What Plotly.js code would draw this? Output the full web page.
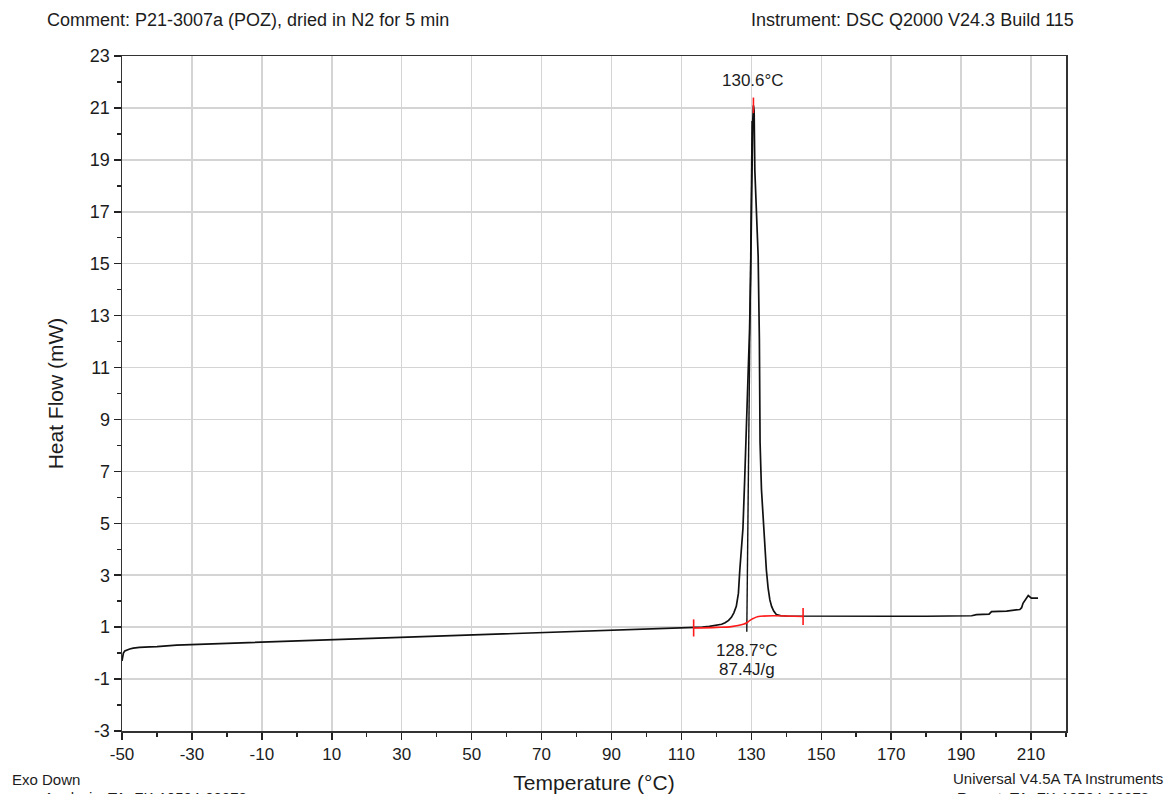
<!DOCTYPE html>
<html>
<head>
<meta charset="utf-8">
<script src="https://cdn.plot.ly/plotly-3.0.1.min.js"></script>
<style>
  html, body { margin: 0; padding: 0; background: #ffffff; }
  #chart { width: 1169px; height: 794px; }
</style>
</head>
<body>
<div id="chart"></div>
<script>
// DSC heating scan: temperature (°C) vs heat flow (mW)
const temperature = [
  -50, -49.8, -49.6, -49.2, -48.7, -47.8, -46.8, -45, -42, -40, -34.4, -30, -20, -13.4,
  0, 10, 20, 30, 40, 50, 60, 70, 80, 90, 100, 110, 113, 116, 118, 120, 121.5, 122.5,
  123.5, 124.3, 125, 125.7, 126.3, 126.7, 127.2, 127.6, 128.1, 128.6, 129.1, 129.5,
  129.8, 130.1, 130.4, 130.6, 130.8, 131.0, 131.5, 131.95, 132.3, 132.5, 132.9, 133.4,
  133.8, 134.3, 134.8, 135.3, 135.8, 136.4, 137.2, 138.5, 140, 150, 160, 170, 180, 190,
  193, 194.4, 198, 198.7, 203, 206.8, 207.3, 207.7, 208.5, 209.2, 210.1, 211, 212
];
const heatFlow = [
  -0.3, -0.1, 0.0, 0.08, 0.12, 0.16, 0.19, 0.22, 0.24, 0.25, 0.31, 0.33, 0.38, 0.40,
  0.46, 0.51, 0.55, 0.60, 0.65, 0.69, 0.73, 0.78, 0.83, 0.88, 0.92, 0.96, 0.98, 1.0,
  1.03, 1.07, 1.11, 1.17, 1.26, 1.38, 1.55, 1.8, 2.3, 3.2, 4.0, 4.8, 6.7, 8.5, 10.4,
  12.5, 14.5, 18.6, 20.5, 21.1, 20.9, 18.6, 17.0, 15.3, 12.1, 8.1, 6.3, 5.0, 4.0, 3.2,
  2.5, 2.05, 1.8, 1.62, 1.48, 1.44, 1.43, 1.42, 1.42, 1.42, 1.42, 1.43, 1.44, 1.48,
  1.5, 1.6, 1.62, 1.68, 1.75, 1.92, 2.1, 2.22, 2.12, 2.12, 2.12
];

// Integration baseline (sigmoidal) under the melting peak
const baselineT  = [113.5, 120, 124.3, 127.7, 128.7, 129.5, 130.5, 132.0, 144.8];
const baselineHF = [0.97, 0.99, 1.02, 1.11, 1.17, 1.25, 1.33, 1.41, 1.41];

// Integration limits and their marker half-height (mW)
const limitT = [113.5, 144.8];
const limitHF = [0.97, 1.41];
const limitHalf = 0.33;

// Onset tangent on the leading edge
const tangentT  = [128.7, 130.2];
const tangentHF = [0.82, 20.5];

// Peak maximum marker
const peakT = 130.6;
const peakHF = [20.8, 21.4];

// Result labels
const peakLabel = "130.6°C";
const onsetLabel = "128.7°C";
const enthalpyLabel = "87.4J/g";

// Axis ticks
const xTicks = [-50, -30, -10, 10, 30, 50, 70, 90, 110, 130, 150, 170, 190, 210];
const yTicks = [-3, -1, 1, 3, 5, 7, 9, 11, 13, 15, 17, 19, 21, 23];

const FONT = "Liberation Sans, Arial, sans-serif";
const INK = "#1c1c1c";

const traces = [
  {
    x: temperature, y: heatFlow, mode: "lines", type: "scatter",
    line: { color: "#111111", width: 1.7 }, hoverinfo: "skip"
  },
  {
    x: tangentT, y: tangentHF, mode: "lines", type: "scatter",
    line: { color: "#111111", width: 1.4 }, hoverinfo: "skip"
  },
  {
    x: baselineT, y: baselineHF, mode: "lines", type: "scatter",
    line: { color: "#ff1a1a", width: 1.6, shape: "spline" }, hoverinfo: "skip"
  },
  {
    x: [limitT[0], limitT[0], null, limitT[1], limitT[1]],
    y: [limitHF[0] - limitHalf, limitHF[0] + limitHalf, null, limitHF[1] - limitHalf, limitHF[1] + limitHalf],
    mode: "lines", type: "scatter",
    line: { color: "#ff1a1a", width: 1.6 }, hoverinfo: "skip"
  },
  {
    x: [peakT, peakT], y: peakHF, mode: "lines", type: "scatter",
    line: { color: "#ff1a1a", width: 1.6 }, hoverinfo: "skip"
  }
];

const axisCommon = {
  showline: true, linecolor: "#333333", linewidth: 1.5, mirror: true,
  ticks: "outside", ticklen: 7, tickwidth: 1.5, tickcolor: "#222222",
  showgrid: true, gridcolor: "#d4d4d4", gridwidth: 1.5,
  zeroline: false,
  tickfont: { family: FONT, size: 17, color: INK }
};

const layout = {
  width: 1169, height: 794,
  margin: { l: 122, r: 103, t: 56, b: 63 },
  paper_bgcolor: "#ffffff", plot_bgcolor: "#ffffff",
  showlegend: false,
  xaxis: Object.assign({}, axisCommon, {
    range: [-50, 220], tickmode: "array", tickvals: xTicks,
    ticktext: xTicks.map(String),
    minor: { dtick: 10, tick0: -50, ticks: "outside", ticklen: 4, tickwidth: 1.5, tickcolor: "#222222", showgrid: false },
    title: { text: "Temperature (°C)", font: { family: FONT, size: 21, color: INK }, standoff: 12 }
  }),
  yaxis: Object.assign({}, axisCommon, {
    range: [-3, 23], tickmode: "array", tickvals: yTicks,
    ticktext: yTicks.map(String),
    tickfont: { family: FONT, size: 18, color: INK },
    minor: { dtick: 1, tick0: -3, ticks: "outside", ticklen: 4, tickwidth: 1.5, tickcolor: "#222222", showgrid: false },
    title: { text: "Heat Flow (mW)", font: { family: FONT, size: 21, color: INK }, standoff: 20 }
  }),
  annotations: [
    { x: peakT, y: 22.05, xref: "x", yref: "y", text: peakLabel, showarrow: false,
      font: { family: FONT, size: 17, color: INK }, xanchor: "center", yanchor: "middle" },
    { x: 128.7, y: 0.12, xref: "x", yref: "y", text: onsetLabel, showarrow: false,
      font: { family: FONT, size: 17, color: INK }, xanchor: "center", yanchor: "middle" },
    { x: 128.7, y: -0.62, xref: "x", yref: "y", text: enthalpyLabel, showarrow: false,
      font: { family: FONT, size: 17, color: INK }, xanchor: "center", yanchor: "middle" },
    { x: 45, y: 20, text: "Comment: P21-3007a (POZ), dried in N2 for 5 min",
      showarrow: false, font: { family: FONT, size: 18, color: INK }, xanchor: "left", yanchor: "middle" },
    { x: 1076, y: 20, text: "Instrument: DSC Q2000 V24.3 Build 115",
      showarrow: false, font: { family: FONT, size: 18, color: INK }, xanchor: "right", yanchor: "middle" },
    { x: 10, y: 779, text: "Exo Down",
      showarrow: false, font: { family: FONT, size: 15, color: INK }, xanchor: "left", yanchor: "middle" },
    { x: 42, y: 787, text: "Analysis: TA_FK-10504-00078",
      showarrow: false, font: { family: FONT, size: 15, color: INK }, xanchor: "left", yanchor: "top" },
    { x: 1165, y: 778, text: "Universal V4.5A TA Instruments",
      showarrow: false, font: { family: FONT, size: 15, color: INK }, xanchor: "right", yanchor: "middle" },
    { x: 955, y: 787, text: "Report: TA_FK-10504-00078",
      showarrow: false, font: { family: FONT, size: 15, color: INK }, xanchor: "left", yanchor: "top" }
  ]
};

// Header/footer notes are placed in page pixels: convert to paper fractions.
const plotW = layout.width - layout.margin.l - layout.margin.r;
const plotH = layout.height - layout.margin.t - layout.margin.b;
layout.annotations.forEach(function (a) {
  if (a.xref === "x") return;
  a.xref = "paper"; a.yref = "paper";
  a.x = (a.x - layout.margin.l) / plotW;
  a.y = (layout.height - layout.margin.b - a.y) / plotH;
});

Plotly.newPlot("chart", traces, layout, { displayModeBar: false, staticPlot: true });
</script>
</body>
</html>
